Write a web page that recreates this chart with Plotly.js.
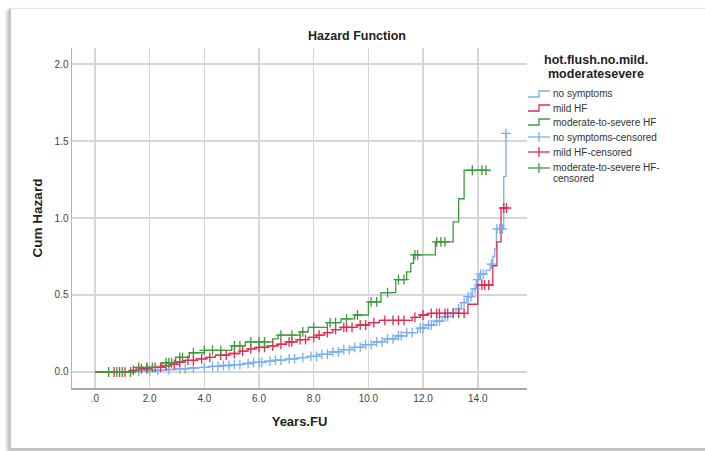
<!DOCTYPE html>
<html>
<head>
<meta charset="utf-8">
<script src="https://cdn.plot.ly/plotly-3.0.1.min.js"></script>
<style>
  html, body { margin: 0; padding: 0; background: #ffffff; }
  #wrap { position: relative; width: 705px; height: 451px; overflow: hidden; background: #fff; }
  #frame { position: absolute; left: 9px; top: 8px; width: 720px; height: 439px;
           border-left: 2px solid #c4c4c4; border-top: 1px solid #e6e6e6; border-bottom: 2px solid #c4c4c4;
           box-shadow: -2px 2px 3px rgba(0,0,0,0.25); background: #fff; }
  #chart { position: absolute; left: 0; top: 0; width: 705px; height: 451px; }
</style>
</head>
<body>
<div id="wrap"><div id="frame"></div><div id="chart"></div></div>
<script>
// ---- data ----
const groupNames = ["no symptoms", "mild HF", "moderate-to-severe HF"];
const censorNames = ["no symptoms-censored", "mild HF-censored", "moderate-to-severe HF-censored"];

// no symptoms: event times and cumulative hazard
const noSymTimes = [1.3, 1.8, 2.2, 2.6, 3.0, 3.4, 3.8, 4.2, 4.6, 5.0, 5.4, 5.8, 6.2, 6.6, 7.0, 7.4, 7.8, 8.2, 8.6, 9.0, 9.4, 9.8, 10.2, 10.6, 11.0, 11.4, 11.8, 12.1, 12.4, 12.7, 13.0, 13.2, 13.4, 13.6, 13.8, 13.95, 14.05, 14.3, 14.45, 14.55, 14.62, 14.68, 14.95, 15.03];
const noSymHaz   = [0.005, 0.008, 0.012, 0.016, 0.02, 0.026, 0.03, 0.036, 0.042, 0.048, 0.055, 0.062, 0.07, 0.077, 0.085, 0.093, 0.102, 0.115, 0.13, 0.145, 0.16, 0.178, 0.195, 0.215, 0.235, 0.255, 0.285, 0.305, 0.33, 0.36, 0.385, 0.41, 0.45, 0.49, 0.54, 0.6, 0.635, 0.66, 0.70, 0.75, 0.80, 0.93, 1.27, 1.55];
const noSymCens  = [1.6, 2.0, 2.3, 2.7, 3.1, 3.3, 3.6, 4.0, 4.3, 4.5, 4.7, 4.9, 5.1, 5.3, 5.6, 5.8, 6.0, 6.1, 6.4, 6.6, 6.8, 7.1, 7.3, 7.6, 7.9, 8.1, 8.3, 8.5, 8.7, 8.9, 9.1, 9.3, 9.5, 9.7, 9.9, 10.1, 10.3, 10.5, 10.7, 10.9, 11.1, 11.2, 11.4, 11.6, 11.9, 12.0, 12.2, 12.3, 12.5, 12.6, 12.8, 12.9, 13.1, 13.3, 13.5, 13.65, 13.75, 13.9, 14.0, 14.1, 14.2, 14.5, 14.7, 14.8, 14.9, 15.03];

// mild HF
const mildTimes = [1.3, 1.6, 2.1, 2.5, 2.8, 3.0, 3.3, 3.7, 4.1, 4.4, 4.9, 5.3, 5.6, 5.9, 6.3, 6.7, 7.0, 7.4, 7.8, 8.1, 8.4, 8.7, 9.0, 9.6, 10.0, 10.4, 11.6, 11.9, 12.2, 13.64, 14.0, 14.55, 14.7, 14.85];
const mildHaz   = [0.01, 0.02, 0.03, 0.04, 0.05, 0.065, 0.075, 0.085, 0.095, 0.11, 0.12, 0.135, 0.15, 0.16, 0.17, 0.18, 0.195, 0.21, 0.225, 0.24, 0.255, 0.275, 0.29, 0.305, 0.32, 0.335, 0.355, 0.37, 0.38, 0.44, 0.565, 0.69, 0.845, 1.065];
const mildCens  = [0.7, 0.9, 1.1, 1.4, 1.7, 1.9, 2.2, 2.4, 2.6, 2.9, 3.1, 3.4, 3.6, 3.9, 4.2, 4.6, 4.8, 5.1, 5.4, 5.7, 6.0, 6.2, 6.5, 6.8, 7.1, 7.2, 7.5, 7.7, 8.0, 8.2, 8.5, 8.8, 9.1, 9.2, 9.4, 9.7, 9.9, 10.2, 10.6, 10.9, 11.1, 11.3, 11.7, 12.0, 12.3, 12.5, 12.6, 12.8, 12.9, 13.1, 13.3, 13.5, 14.15, 14.25, 14.4, 14.95, 15.05];

// moderate-to-severe HF
const modTimes = [1.5, 2.45, 2.95, 3.45, 4.0, 5.0, 5.5, 6.5, 6.7, 7.5, 7.8, 8.5, 9.0, 9.5, 10.0, 10.46, 11.0, 11.4, 11.55, 11.65, 12.45, 13.1, 13.3, 13.5];
const modHaz   = [0.03, 0.06, 0.095, 0.125, 0.14, 0.17, 0.195, 0.215, 0.24, 0.26, 0.29, 0.32, 0.345, 0.37, 0.455, 0.515, 0.60, 0.65, 0.705, 0.76, 0.845, 0.975, 1.125, 1.31];
const modCens  = [0.5, 0.8, 1.0, 1.3, 1.6, 1.9, 2.1, 2.6, 2.7, 2.8, 3.1, 3.2, 3.6, 4.0, 4.3, 4.6, 5.1, 5.3, 5.7, 6.0, 6.2, 6.8, 7.2, 7.6, 8.0, 8.6, 8.8, 9.2, 9.6, 10.1, 10.3, 10.7, 11.1, 11.3, 11.7, 11.8, 12.5, 12.65, 12.8, 13.8, 14.15, 14.3];

const xTickVals = [0, 2, 4, 6, 8, 10, 12, 14];
const xTickText = [".0", "2.0", "4.0", "6.0", "8.0", "10.0", "12.0", "14.0"];
const yTickVals = [0, 0.5, 1.0, 1.5, 2.0];
const yTickText = ["0.0", "0.5", "1.0", "1.5", "2.0"];

// ---- styling ----
const colors = ["#78aef0", "#e32a50", "#3d9a3d"];

function stepXY(times, haz, cens) {
  const end = Math.max(times[times.length - 1], cens[cens.length - 1]);
  const x = [0].concat(times, [end]);
  const y = [0].concat(haz, [haz[haz.length - 1]]);
  return {x, y};
}
function hazAt(times, haz, t) {
  let v = 0;
  for (let i = 0; i < times.length; i++) { if (times[i] <= t) v = haz[i]; }
  return v;
}

const groups = [
  [noSymTimes, noSymHaz, noSymCens],
  [mildTimes, mildHaz, mildCens],
  [modTimes, modHaz, modCens]
];

const traces = [];
groups.forEach((g, i) => {
  const s = stepXY(g[0], g[1], g[2]);
  traces.push({
    type: "scatter", mode: "lines", name: groupNames[i], x: s.x, y: s.y,
    line: {shape: "hv", color: colors[i], width: 1.3}, showlegend: false, hoverinfo: "skip"
  });
});
groups.forEach((g, i) => {
  traces.push({
    type: "scatter", mode: "markers", name: censorNames[i], x: g[2],
    y: g[2].map(t => hazAt(g[0], g[1], t)),
    marker: {symbol: "cross-thin", size: 7, line: {color: colors[i], width: 1.3}, color: colors[i]},
    showlegend: false, hoverinfo: "skip"
  });
});

// plot area in pixels
const L = 72, R = 527, T = 48, B = 388;
const px = v => (v - L) / (R - L);
const py = v => (B - v) / (B - T);

const shapes = [];
const annotations = [];
// legend title
annotations.push({xref: "paper", yref: "paper", x: px(596), y: py(60), xanchor: "center", yanchor: "middle",
  text: "hot.flush.no.mild.", showarrow: false, font: {family: "Liberation Sans, Arial, sans-serif", size: 12.5, color: "#222", weight: "bold"}});
annotations.push({xref: "paper", yref: "paper", x: px(596), y: py(74), xanchor: "center", yanchor: "middle",
  text: "moderatesevere", showarrow: false, font: {family: "Liberation Sans, Arial, sans-serif", size: 12.5, color: "#222", weight: "bold"}});

const legendY = [94, 108, 122, 137, 152, 167];
const legendText = groupNames.concat(["no symptoms-censored", "mild HF-censored", "moderate-to-severe HF-"]);
legendY.forEach((yc, k) => {
  const c = colors[k % 3];
  if (k < 3) {
    shapes.push({type: "path", xref: "paper", yref: "paper",
      path: `M ${px(528)},${py(yc + 3)} L ${px(539)},${py(yc + 3)} L ${px(539)},${py(yc - 3)} L ${px(550)},${py(yc - 3)}`,
      line: {color: c, width: 1.3}});
  } else {
    const yy = k === 5 ? yc + 1 : yc;
    shapes.push({type: "line", xref: "paper", yref: "paper", x0: px(528), x1: px(550), y0: py(yy), y1: py(yy), line: {color: c, width: 1.3}});
    shapes.push({type: "line", xref: "paper", yref: "paper", x0: px(539), x1: px(539), y0: py(yy - 5), y1: py(yy + 5), line: {color: c, width: 1.3}});
  }
  annotations.push({xref: "paper", yref: "paper", x: px(551), y: py(yc), xanchor: "left", yanchor: "middle",
    text: legendText[k], showarrow: false, font: {family: "Liberation Sans, Arial, sans-serif", size: 10, color: "#333"}});
});
annotations.push({xref: "paper", yref: "paper", x: px(551), y: py(178), xanchor: "left", yanchor: "middle",
  text: "censored", showarrow: false, font: {family: "Liberation Sans, Arial, sans-serif", size: 10, color: "#333"}});

const layout = {
  width: 705, height: 451,
  margin: {l: L, r: 705 - R, t: T, b: 451 - B, pad: 0},
  paper_bgcolor: "rgba(0,0,0,0)", plot_bgcolor: "rgba(0,0,0,0)",
  font: {family: "Liberation Sans, Arial, sans-serif", color: "#333"},
  showlegend: false,
  title: {text: "Hazard Function", x: px(357), xref: "paper", xanchor: "center", y: 1 - 36 / 451, yref: "container", yanchor: "middle",
    font: {size: 12.5, color: "#222", weight: "bold"}},
  xaxis: {
    range: [-0.84, 15.8], tickmode: "array", tickvals: xTickVals, ticktext: xTickText,
    showgrid: true, gridcolor: "#d6d6d6", gridwidth: 1.5, zeroline: false,
    showline: true, linecolor: "#a8a8a8", linewidth: 1.5, ticks: "",
    tickfont: {size: 10, color: "#444"},
    title: {text: "Years.FU", standoff: 14, font: {size: 13, color: "#222", weight: "bold"}}
  },
  yaxis: {
    range: [-0.104, 2.104], tickmode: "array", tickvals: yTickVals, ticktext: yTickText,
    showgrid: true, gridcolor: "#d6d6d6", gridwidth: 1.5, zeroline: false,
    showline: true, linecolor: "#b4b4b4", linewidth: 1.5, ticks: "",
    tickfont: {size: 10, color: "#444"},
    title: {text: "Cum Hazard", standoff: 9, font: {size: 13.5, color: "#222", weight: "bold"}}
  },
  shapes: shapes,
  annotations: annotations
};

Plotly.newPlot("chart", traces, layout, {displayModeBar: false, staticPlot: true});
</script>
</body>
</html>
